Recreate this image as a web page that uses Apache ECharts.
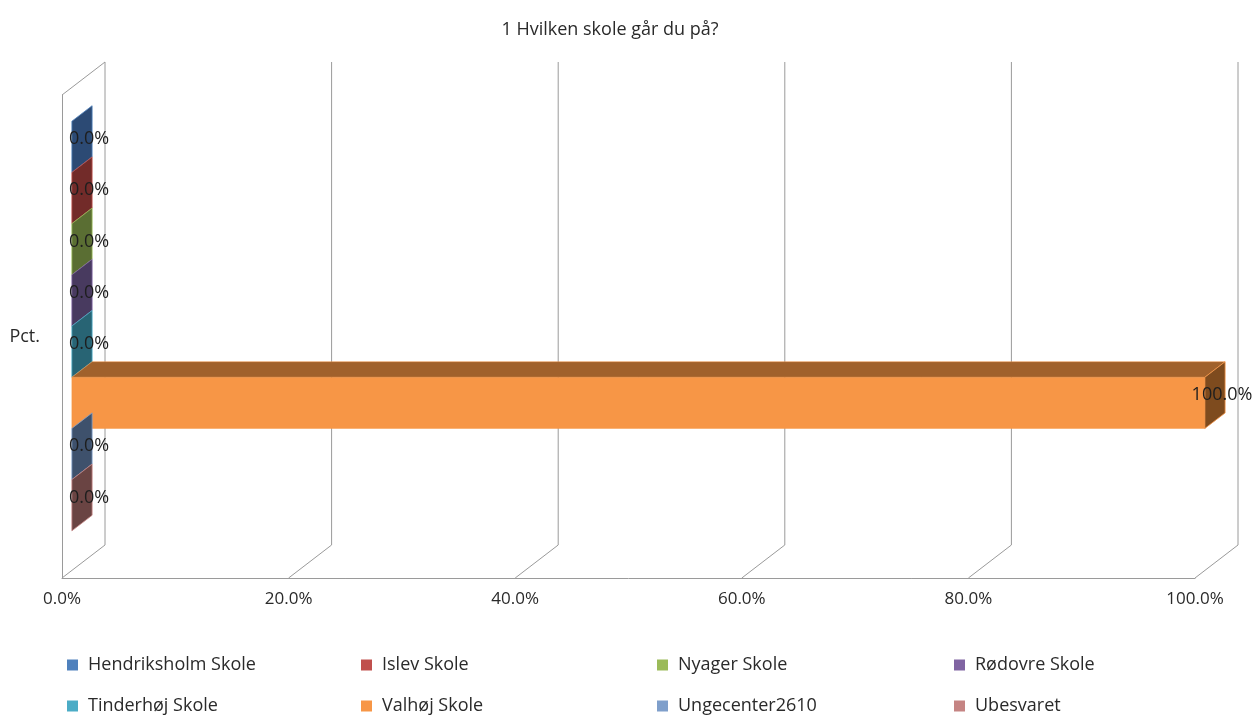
<!DOCTYPE html>
<html>
<head>
<meta charset="utf-8">
<script src="https://cdn.jsdelivr.net/npm/echarts@6/dist/echarts.min.js"></script>
<style>
  html, body { margin: 0; padding: 0; background: #fff; }
  #chart { width: 1255px; height: 717px; }
</style>
</head>
<body>
<div id="chart"></div>
<script>
// ---- data ----
const titleText = '1 Hvilken skole går du på?';
const categories = ['Pct.'];
const seriesNames = ['Hendriksholm Skole', 'Islev Skole', 'Nyager Skole', 'Rødovre Skole',
                     'Tinderhøj Skole', 'Valhøj Skole', 'Ungecenter2610', 'Ubesvaret'];
const seriesValues = [0, 0, 0, 0, 0, 100, 0, 0];
const tickValues = [0, 20, 40, 60, 80, 100];

// ---- styles ----
const baseColors = ['#4F81BD', '#C0504D', '#9BBB59', '#8064A2', '#4BACC6', '#F79646', '#7F9FCB', '#C58483'];
const topColors  = ['#365F8F', '#8E3A38', '#728A42', '#5E4A78', '#378095', '#A0612C', '#5D7595', '#916261'];
const endColors  = ['#2C4A74', '#722B29', '#5A6E33', '#483A5F', '#286474', '#7E4B1E', '#3E516C', '#6A4443'];
const FONT = '"Open Sans", "Noto Sans", sans-serif';
const TEXT = '#2a2a2a';
const GRID = '#9a9a9a';
const DEPTH_X = 43, DEPTH_Y = -33;     // full wall depth
const F1 = 0.23, F2 = 0.70;            // bar front/back depth fraction
const GROUP_TOP = 0.07, BAR_FRAC = 0.106;

const chart = echarts.init(document.getElementById('chart'), null, { renderer: 'canvas' });

function gridRender(params, api) {
  const cs = params.coordSys;
  const v = api.value(0);
  const x = api.coord([v, 0])[0];
  const yb = cs.y + cs.height, yt = cs.y;
  const children = [{
    type: 'polyline',
    shape: { points: [[x, yb], [x + DEPTH_X, yb + DEPTH_Y], [x + DEPTH_X, yt + DEPTH_Y]] },
    style: { stroke: GRID, lineWidth: 1, fill: null },
    silent: true
  }];
  if (params.dataIndex === 0) {
    children.push({
      type: 'line',
      shape: { x1: x, y1: yt, x2: x + DEPTH_X, y2: yt + DEPTH_Y },
      style: { stroke: GRID, lineWidth: 1 },
      silent: true
    });
  }
  return { type: 'group', children: children };
}

function makeBarRender(i) {
  return function (params, api) {
    const cs = params.coordSys;
    const v = api.value(0);
    const p0 = api.coord([0, 0]);
    const p1 = api.coord([v, 0]);
    const h = cs.height;
    const ox = F1 * DEPTH_X, oy = F1 * DEPTH_Y;
    const dx = (F2 - F1) * DEPTH_X, dy = (F2 - F1) * DEPTH_Y;
    const y0 = cs.y + h * (GROUP_TOP + i * BAR_FRAC) + oy;
    const y1 = y0 + h * BAR_FRAC;
    const x0 = p0[0] + ox, x1 = p1[0] + ox;
    const children = [];
    if (x1 - x0 > 0.5) {
      children.push({
        type: 'rect', shape: { x: x0, y: y0, width: x1 - x0, height: y1 - y0 },
        style: { fill: baseColors[i], stroke: baseColors[i], lineWidth: 0.5 }
      });
      children.push({
        type: 'polygon',
        shape: { points: [[x0, y0], [x1, y0], [x1 + dx, y0 + dy], [x0 + dx, y0 + dy]] },
        style: { fill: topColors[i], stroke: baseColors[i], lineWidth: 0.5 }
      });
    }
    children.push({
      type: 'polygon',
      shape: { points: [[x1, y0], [x1 + dx, y0 + dy], [x1 + dx, y1 + dy], [x1, y1]] },
      style: { fill: endColors[i], stroke: baseColors[i], lineWidth: 0.8 }
    });
    children.push({
      type: 'text',
      style: {
        text: v.toFixed(1) + '%',
        x: x1 + dx / 2 + 7, y: (y0 + y1) / 2 + dy / 2,
        align: 'center', verticalAlign: 'middle',
        fill: '#1e1e1e', font: '18px ' + FONT
      },
      silent: true
    });
    return { type: 'group', children: children };
  };
}

const series = [{
  type: 'custom',
  name: '__grid',
  renderItem: gridRender,
  data: tickValues.map(t => [t]),
  encode: { x: 0 },
  silent: true,
  z: 1
}];
seriesNames.forEach((name, i) => {
  series.push({
    type: 'custom',
    name: name,
    itemStyle: { color: baseColors[i] },
    renderItem: makeBarRender(i),
    data: [[seriesValues[i], 0]],
    encode: { x: 0, y: 1 },
    z: 2 + i
  });
});

const colX = [62, 356, 652, 949];
const rowCenterY = [663, 704];
const legends = seriesNames.map((name, k) => ({
  orient: 'horizontal',
  left: colX[k % 4],
  top: rowCenterY[Math.floor(k / 4)] - 14,
  itemWidth: 11,
  itemHeight: 11,
  icon: 'rect',
  selectedMode: false,
  data: [name],
  textStyle: { fontFamily: FONT, fontSize: 18, lineHeight: 22, color: TEXT, padding: [0, 0, 0, 5] }
}));

chart.setOption({
  animation: false,
  backgroundColor: '#ffffff',
  title: {
    text: titleText,
    left: 605,
    top: 16,
    textAlign: 'center',
    textStyle: { fontFamily: FONT, fontSize: 18, fontWeight: 'normal', color: TEXT }
  },
  legend: legends,
  grid: { left: 62, right: 60, top: 95, bottom: 139, containLabel: false },
  xAxis: {
    type: 'value',
    min: 0, max: 100, interval: 20,
    axisLine: { show: true, lineStyle: { color: GRID, width: 1 } },
    axisTick: { show: false },
    splitLine: { show: false },
    axisLabel: {
      margin: 13,
      fontFamily: FONT, fontSize: 17, color: TEXT,
      formatter: v => v.toFixed(1) + '%'
    }
  },
  yAxis: {
    type: 'category',
    data: categories,
    axisLine: { show: true, lineStyle: { color: GRID, width: 1 } },
    axisTick: { show: false },
    splitLine: { show: false },
    axisLabel: { margin: 22, fontFamily: FONT, fontSize: 18, color: TEXT }
  },
  series: series
});
</script>
</body>
</html>
